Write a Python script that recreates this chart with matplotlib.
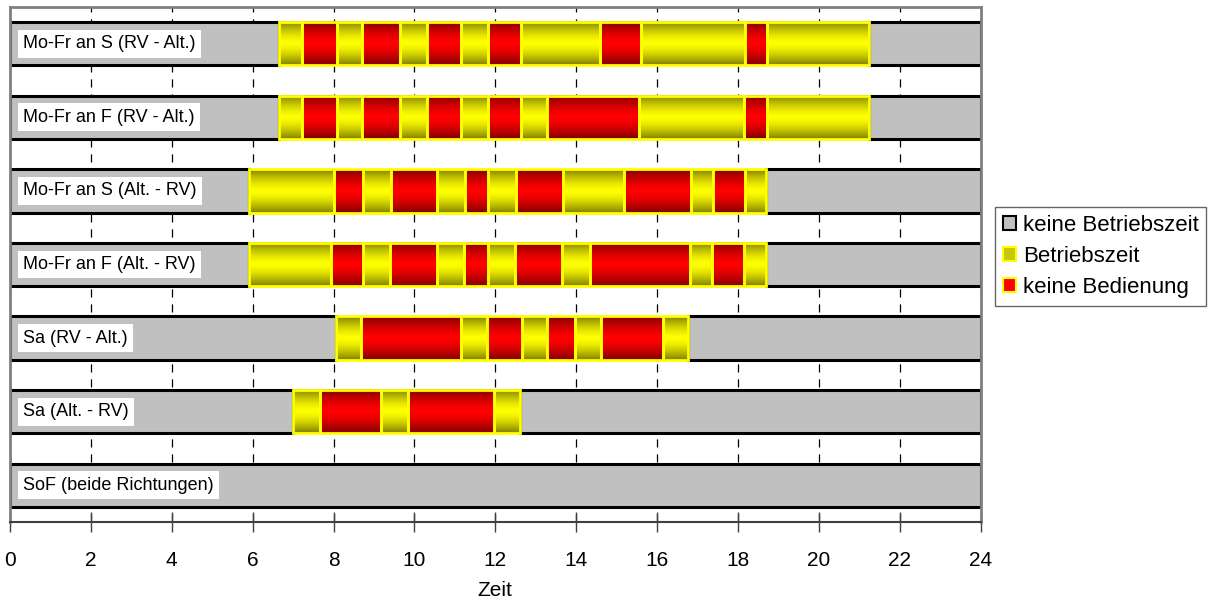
import numpy as np
import matplotlib
matplotlib.use('Agg')
import matplotlib.pyplot as plt
import matplotlib.colors as mcolors
from matplotlib.patches import Patch

plt.rcParams['font.family'] = ['Liberation Sans', 'DejaVu Sans']

labels = ['Mo-Fr an S (RV - Alt.)', 'Mo-Fr an F (RV - Alt.)',
          'Mo-Fr an S (Alt. - RV)', 'Mo-Fr an F (Alt. - RV)',
          'Sa (RV - Alt.)', 'Sa (Alt. - RV)', 'SoF (beide Richtungen)']

# segment boundaries (hours) per row, and the kind of each segment
# g = keine Betriebszeit, y = Betriebszeit, r = keine Bedienung
times_1 = [0, 6.66, 7.22, 8.08, 8.70, 9.65, 10.31, 11.15, 11.81, 12.64, 14.60, 15.59, 18.18, 18.72, 21.25, 24]
times_2 = [0, 6.66, 7.22, 8.08, 8.70, 9.65, 10.31, 11.15, 11.81, 12.64, 13.29, 15.55, 18.16, 18.72, 21.25, 24]
times_3 = [0, 5.91, 8.02, 8.74, 9.42, 10.56, 11.24, 11.83, 12.52, 13.67, 15.17, 16.84, 17.38, 18.17, 18.70, 24]
times_4 = [0, 5.91, 7.93, 8.72, 9.40, 10.56, 11.22, 11.81, 12.49, 13.65, 14.33, 16.81, 17.36, 18.16, 18.70, 24]
times_5 = [0, 8.06, 8.68, 11.15, 11.79, 12.66, 13.29, 13.98, 14.62, 16.15, 16.76, 24]
times_6 = [0, 6.99, 7.67, 9.17, 9.84, 11.96, 12.62, 24]
times_7 = [0, 24]

kinds_1 = 'gyryryryryryryg'
kinds_2 = 'gyryryryryryryg'
kinds_3 = 'gyryryryryryryg'
kinds_4 = 'gyryryryryryryg'
kinds_5 = 'gyryryryryg'
kinds_6 = 'gyryryg'
kinds_7 = 'g'

all_times = [times_1, times_2, times_3, times_4, times_5, times_6, times_7]
all_kinds = [kinds_1, kinds_2, kinds_3, kinds_4, kinds_5, kinds_6, kinds_7]

legend_names = ['keine Betriebszeit', 'Betriebszeit', 'keine Bedienung']

base = {'y': '#FFFF00', 'r': '#FF0000'}


def gradient(color):
    v = np.linspace(0, 1, 80)
    s = np.abs(2 * v - 1) ** 1.5
    c = np.array(mcolors.to_rgb(color))
    dark = c * 0.5
    img = (1 - s)[:, None] * c + s[:, None] * dark
    return img[:, None, :]


fig = plt.figure(figsize=(12.14, 5.99), dpi=100)
ax = fig.add_axes([0.0082, 0.1285, 0.7996, 0.8598])

h = 0.59
for row, (times, kinds) in enumerate(zip(all_times, all_kinds)):
    for i, k in enumerate(kinds):
        left = times[i]
        width = times[i + 1] - times[i]
        if k == 'g':
            ax.barh(row, width, left=left, height=h, color='#C0C0C0',
                    edgecolor='black', linewidth=2.2, zorder=2)
        else:
            ax.imshow(gradient(base[k]), extent=[left, left + width, row + h / 2, row - h / 2],
                      aspect='auto', interpolation='bilinear', zorder=3)
            ax.barh(row, width, left=left, height=h, facecolor='none',
                    edgecolor='#FFFF00', linewidth=2, zorder=4)
    ax.text(0.33, row, labels[row], fontsize=13, va='center', ha='left', zorder=6,
            bbox=dict(boxstyle='square,pad=0.3', facecolor='white', edgecolor='none'))

ax.set_xlim(0, 24)
ax.set_ylim(6.5, -0.5)
ax.set_xticks(range(0, 25, 2))
ax.set_yticks([])
ax.tick_params(axis='x', direction='inout', length=14, width=1, color='#404040',
               labelsize=15, pad=14)
ax.set_xlabel('Zeit', fontsize=15, labelpad=8)

ax.xaxis.grid(True, color='black', linewidth=0.9, linestyle=(0, (6.5, 5.5)))
ax.set_axisbelow(True)

for side in ['top', 'right', 'left']:
    ax.spines[side].set_color('#808080')
    ax.spines[side].set_linewidth(2)
ax.spines['bottom'].set_color('#404040')
ax.spines['bottom'].set_linewidth(1.5)

handles = [Patch(facecolor='#C0C0C0', edgecolor='black', linewidth=1.5),
           Patch(facecolor='#C8C800', edgecolor='#FFFF00', linewidth=1.5),
           Patch(facecolor='#FF0000', edgecolor='#FFFF00', linewidth=1.5)]
fig.legend(handles, legend_names, loc='upper left', bbox_to_anchor=(0.8196, 0.6544),
           fontsize=16, frameon=True, fancybox=False, edgecolor='#404040',
           handlelength=0.6, handleheight=0.6, handletextpad=0.3,
           labelspacing=0.45, borderpad=0.35, borderaxespad=0)

plt.savefig('out.png', dpi=100)
